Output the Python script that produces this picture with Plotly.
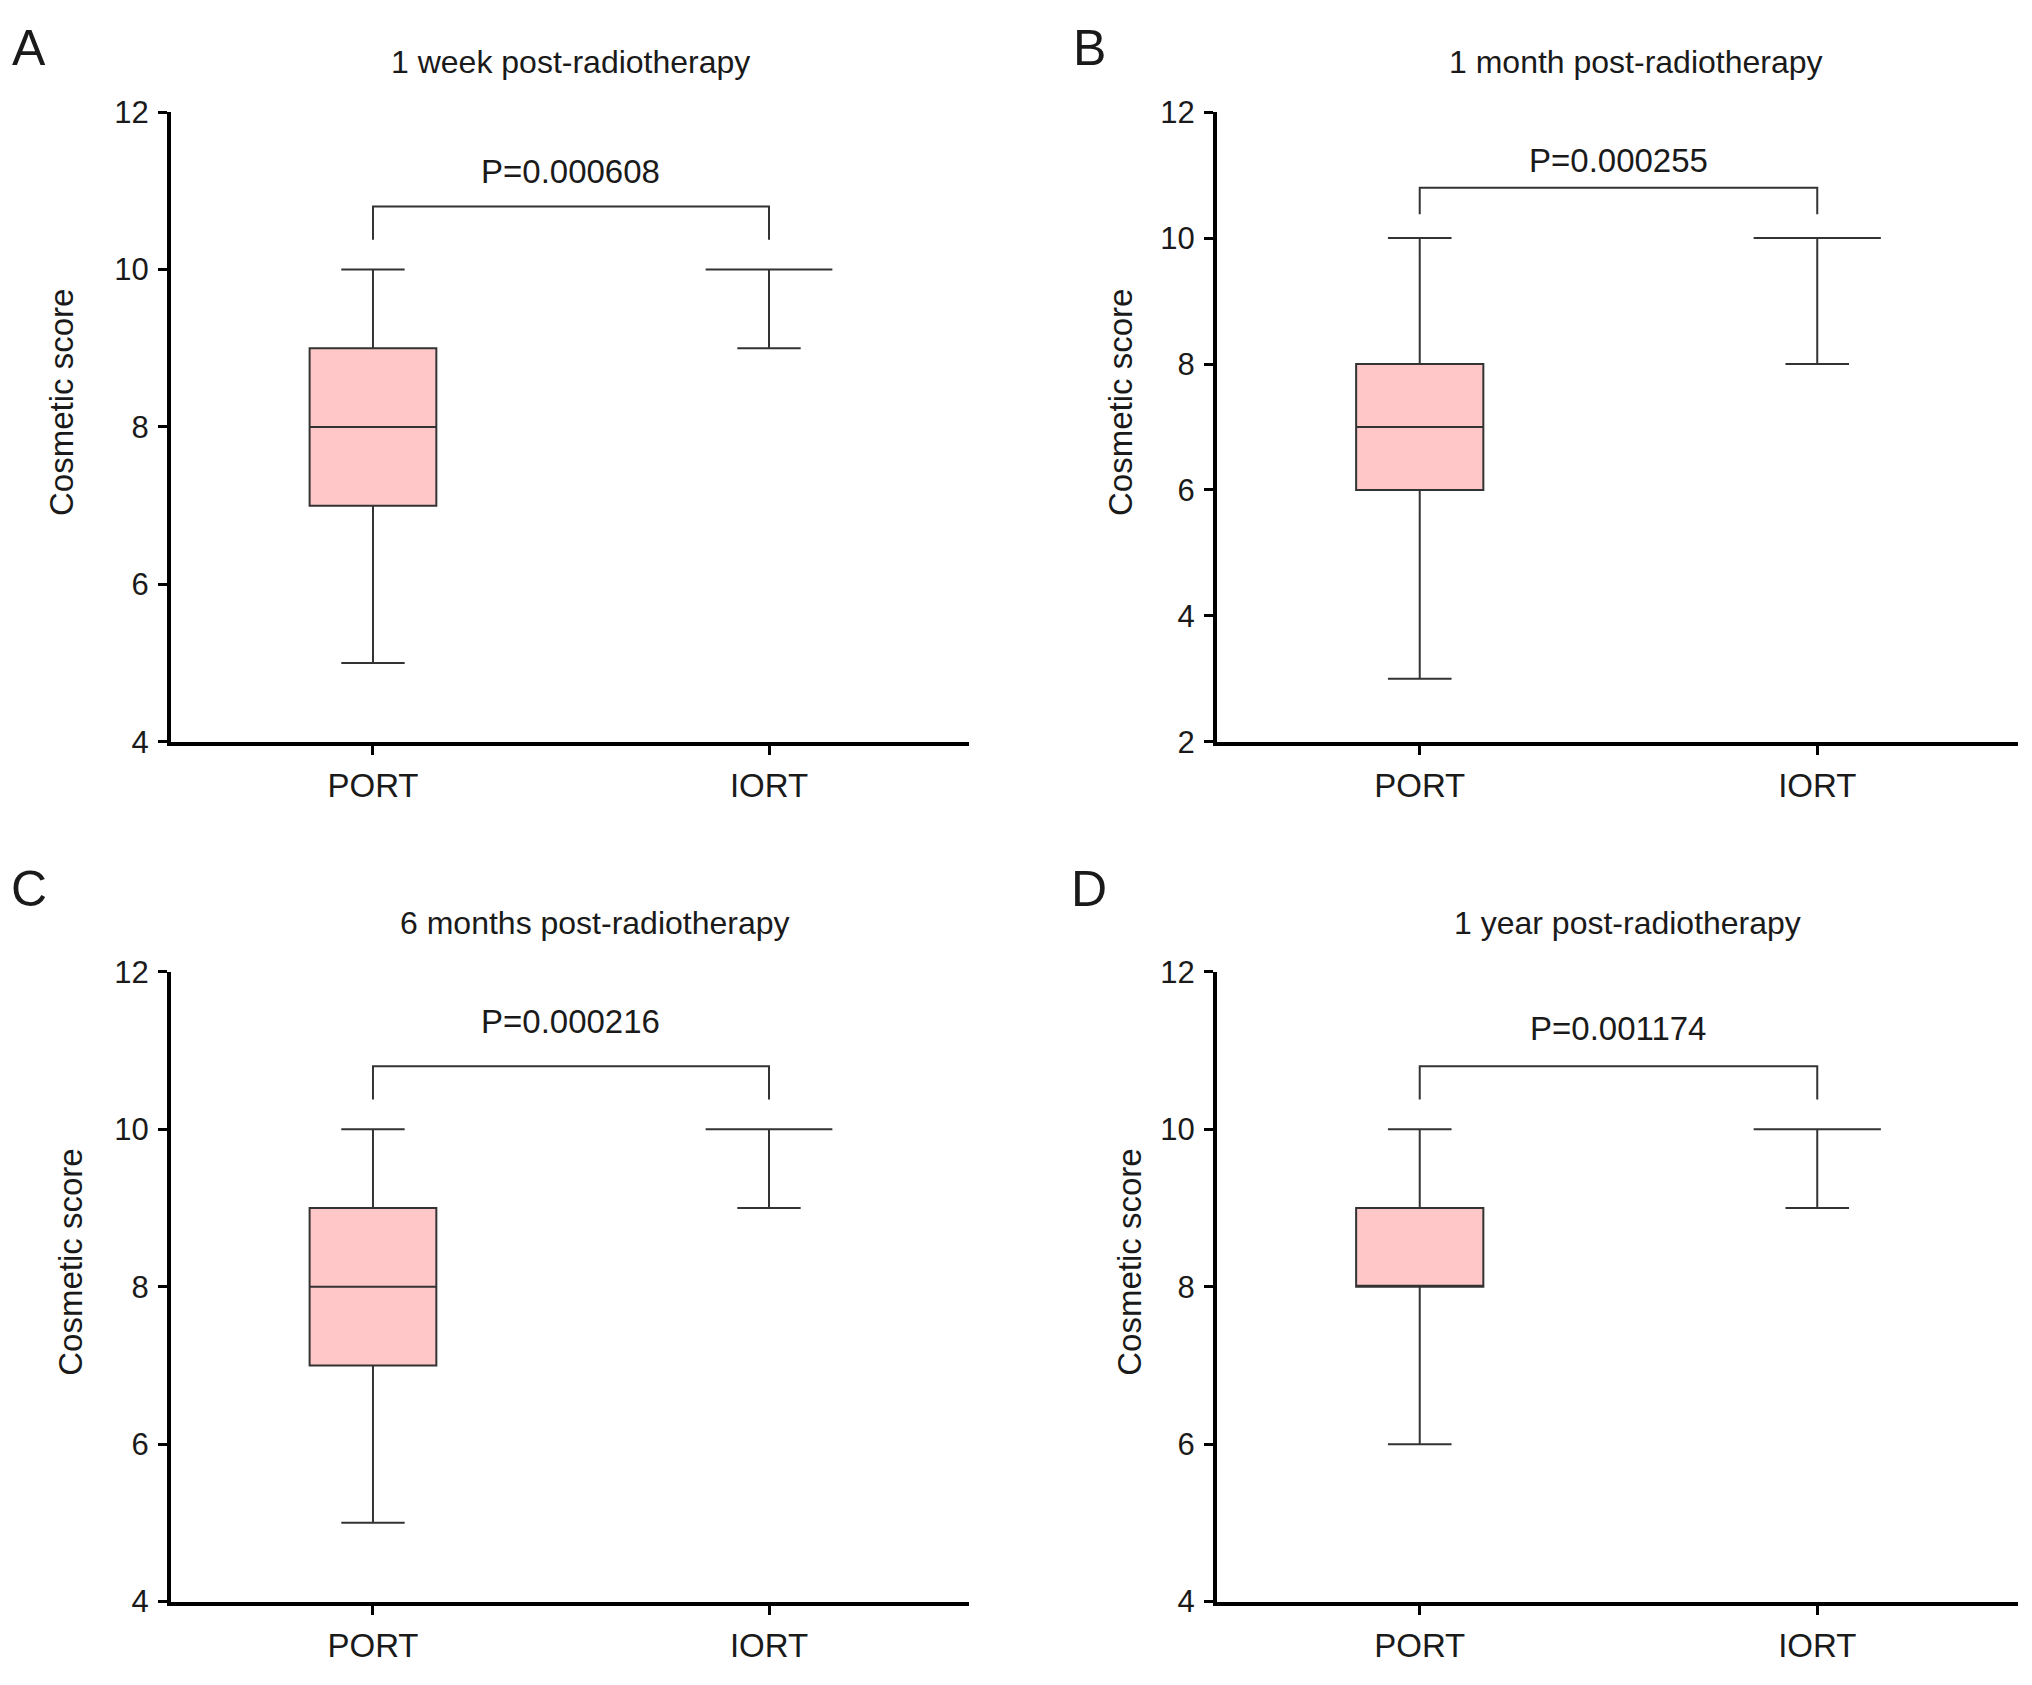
import plotly.graph_objects as go

# groups and per-panel summary statistics
groups = ['PORT', 'IORT']
panel_letters = ['A', 'B', 'C', 'D']
panel_titles = ['1 week post-radiotherapy', '1 month post-radiotherapy',
                '6 months post-radiotherapy', '1 year post-radiotherapy']
p_labels = ['P=0.000608', 'P=0.000255', 'P=0.000216', 'P=0.001174']

port_min = [5, 3, 5, 6]
port_q1 = [7, 6, 7, 8]
port_median = [8, 7, 8, 8]
port_q3 = [9, 8, 9, 9]
port_max = [10, 10, 10, 10]

iort_min = [9, 8, 9, 9]
iort_q1 = [10, 10, 10, 10]
iort_median = [10, 10, 10, 10]
iort_q3 = [10, 10, 10, 10]
iort_max = [10, 10, 10, 10]

y_min = [4, 2, 4, 4]
y_max = [12, 12, 12, 12]

# layout helpers (pixels of a 2032x1685 canvas)
W, H = 2032, 1685
OFF = 8  # page margin of the browser, compensated here
FONT = 'Liberation Sans, Arial, Helvetica, sans-serif'
TXT = '#1a1a1a'
LINE = '#333333'
FILL = '#FFC7C7'

x_px = [(171, 969), (1217, 2018), (171, 969), (1217, 2018)]
y_px = [(97, 740), (97, 740), (975, 1618), (975, 1618)]
title_px = [(570, 46), (1636, 46), (595, 925), (1627, 925)]
letter_px = [(29, 31), (1089, 31), (29, 890), (1089, 890)]
ytitle_px = [(62, 394), (1121, 394), (71, 1272), (1130, 1272)]
p_y = [11.24, 11.23, 11.37, 11.28]
bracket_top, bracket_leg = 10.8, 10.38


def px(x):
    return (x - OFF) / W


def py(y):
    return 1 - (y - OFF) / H


fig = go.Figure()
annotations = []

for i in range(4):
    n = '' if i == 0 else str(i + 1)
    xa, ya = 'x' + n, 'y' + n

    fig.add_trace(go.Box(
        x=[groups[0]], q1=[port_q1[i]], median=[port_median[i]], q3=[port_q3[i]],
        lowerfence=[port_min[i]], upperfence=[port_max[i]],
        fillcolor=FILL, line=dict(color=LINE, width=2), width=0.32, whiskerwidth=0.5,
        boxpoints=False, xaxis=xa, yaxis=ya, showlegend=False, hoverinfo='skip'))
    fig.add_trace(go.Box(
        x=[groups[1]], q1=[iort_q1[i]], median=[iort_median[i]], q3=[iort_q3[i]],
        lowerfence=[iort_min[i]], upperfence=[iort_max[i]],
        fillcolor=FILL, line=dict(color=LINE, width=2), width=0.32, whiskerwidth=0.5,
        boxpoints=False, xaxis=xa, yaxis=ya, showlegend=False, hoverinfo='skip'))

    # significance bracket
    fig.add_trace(go.Scatter(
        x=[groups[0], groups[0], groups[1], groups[1]],
        y=[bracket_leg, bracket_top, bracket_top, bracket_leg],
        mode='lines', line=dict(color=LINE, width=2),
        xaxis=xa, yaxis=ya, showlegend=False, hoverinfo='skip'))

    annotations.append(dict(x=0.5, y=p_y[i], xref=xa, yref=ya, text=p_labels[i],
                            showarrow=False, font=dict(size=33, color=TXT),
                            xanchor='center', yanchor='middle'))
    annotations.append(dict(x=px(title_px[i][0]), y=py(title_px[i][1]), xref='paper', yref='paper',
                            text=panel_titles[i], showarrow=False, font=dict(size=32, color=TXT),
                            xanchor='center', yanchor='middle'))
    annotations.append(dict(x=px(letter_px[i][0]), y=py(letter_px[i][1]), xref='paper', yref='paper',
                            text=panel_letters[i], showarrow=False, font=dict(size=50, color=TXT),
                            xanchor='center', yanchor='middle'))
    annotations.append(dict(x=px(ytitle_px[i][0]), y=py(ytitle_px[i][1]), xref='paper', yref='paper',
                            text='Cosmetic score', textangle=-90, showarrow=False,
                            font=dict(size=33, color=TXT), xanchor='center', yanchor='middle'))

    axis_common = dict(showline=True, linecolor='black', linewidth=4, ticks='outside',
                       tickcolor='black', tickwidth=3, ticklen=9, showgrid=False,
                       zeroline=False)
    fig.layout['xaxis' + n] = dict(
        axis_common, domain=[px(x_px[i][0]), px(x_px[i][1])], anchor=ya,
        type='category', categoryorder='array', categoryarray=groups,
        range=[-0.51, 1.505], ticklabelstandoff=3, tickfont=dict(size=33, color=TXT))
    fig.layout['yaxis' + n] = dict(
        axis_common, domain=[py(y_px[i][1]), py(y_px[i][0])], anchor=xa,
        range=[y_min[i], y_max[i]], tickmode='linear', tick0=y_min[i], dtick=2,
        ticklabelstandoff=3, tickfont=dict(size=31, color=TXT))

fig.update_layout(
    width=W, height=H, margin=dict(l=0, r=0, t=0, b=0),
    paper_bgcolor='white', plot_bgcolor='white',
    font=dict(family=FONT, color=TXT),
    annotations=annotations, showlegend=False)

fig.write_html('out.html')
